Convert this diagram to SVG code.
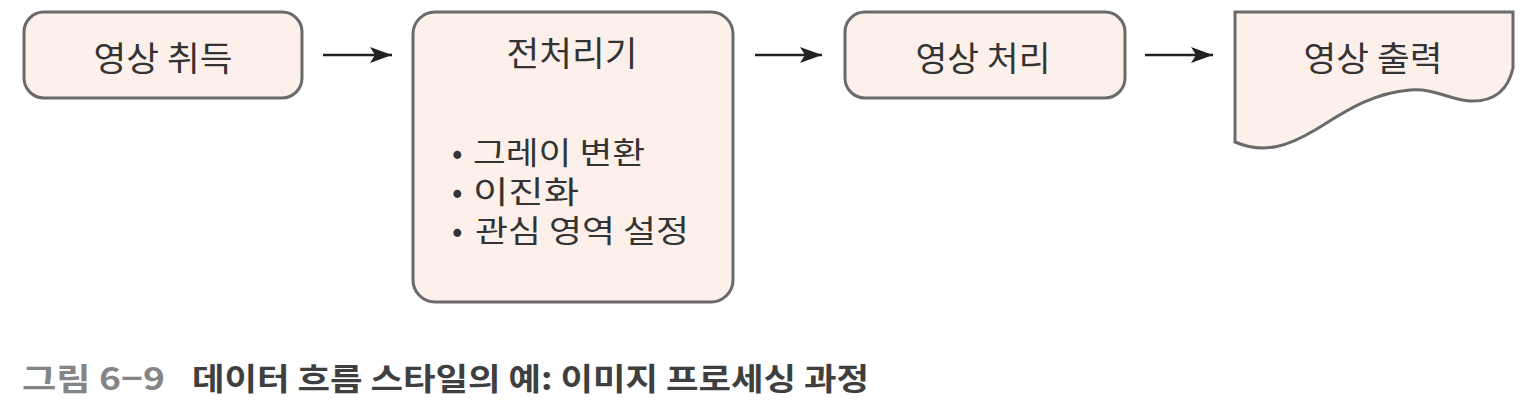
<svg xmlns="http://www.w3.org/2000/svg" width="1522" height="412" viewBox="0 0 1522 412">
<style>
.box{fill:#fdf0ea;stroke:#6a6a6a;stroke-width:3}
.t{font-family:"Noto Sans CJK KR","Noto Sans",sans-serif;font-size:34px;fill:#333333;dominant-baseline:central}
.b{font-family:"Noto Sans CJK KR","Noto Sans",sans-serif;font-size:31px;fill:#333333;dominant-baseline:central}
.c{font-family:"Noto Sans CJK KR","Noto Sans",sans-serif;font-size:31px;font-weight:bold;dominant-baseline:central}
.conn{stroke:#222;stroke-width:2.5;fill:none}
</style>
<defs>
<marker id="ah" markerUnits="userSpaceOnUse" markerWidth="24" markerHeight="18" refX="22" refY="9" orient="auto">
<path d="M0,1 L22,9 L0,17 L5,9 Z" fill="#222"/>
</marker>
</defs>
<rect width="1522" height="412" fill="#ffffff"/>
<g id="connectors">
<line class="conn" x1="323" y1="55" x2="392" y2="55" marker-end="url(#ah)"/>
<line class="conn" x1="755" y1="55" x2="822" y2="55" marker-end="url(#ah)"/>
<line class="conn" x1="1145" y1="55" x2="1213" y2="55" marker-end="url(#ah)"/>
</g>
<g id="node-acquire">
<rect class="box" x="24" y="12" width="278" height="86" rx="20"/>
<text class="t" x="163" y="56" text-anchor="middle" textLength="139" lengthAdjust="spacingAndGlyphs">영상 취득</text>
</g>
<g id="node-preprocess">
<rect class="box" x="413" y="12" width="320" height="290" rx="22"/>
<text class="t" x="572" y="51" text-anchor="middle" textLength="131" lengthAdjust="spacingAndGlyphs">전처리기</text>
<text class="b" y="150"><tspan x="452">•</tspan><tspan x="473" textLength="172" lengthAdjust="spacingAndGlyphs">그레이 변환</tspan></text>
<text class="b" y="189"><tspan x="452">•</tspan><tspan x="473" textLength="106" lengthAdjust="spacingAndGlyphs">이진화</tspan></text>
<text class="b" y="228"><tspan x="452">•</tspan><tspan x="475" textLength="214" lengthAdjust="spacingAndGlyphs">관심 영역 설정</tspan></text>
</g>
<g id="node-process">
<rect class="box" x="845" y="12" width="280" height="86" rx="20"/>
<text class="t" x="983" y="56" text-anchor="middle" textLength="135" lengthAdjust="spacingAndGlyphs">영상 처리</text>
</g>
<g id="node-output">
<path class="box" d="M1235,12 H1513 V68 C1508,90 1495,102 1470,101 C1450,100 1435,88 1410,90 C1370,93 1340,115 1315,130 C1290,145 1265,155 1235,142 Z"/>
<text class="t" x="1373" y="56" text-anchor="middle" textLength="139" lengthAdjust="spacingAndGlyphs">영상 출력</text>
</g>
<g id="caption">
<text class="c" x="22" y="376" fill="#858585" textLength="143" lengthAdjust="spacingAndGlyphs">그림 6−9</text>
<text class="c" x="192" y="376" fill="#3f3f3f" textLength="677" lengthAdjust="spacingAndGlyphs">데이터 흐름 스타일의 예: 이미지 프로세싱 과정</text>
</g>
</svg>
